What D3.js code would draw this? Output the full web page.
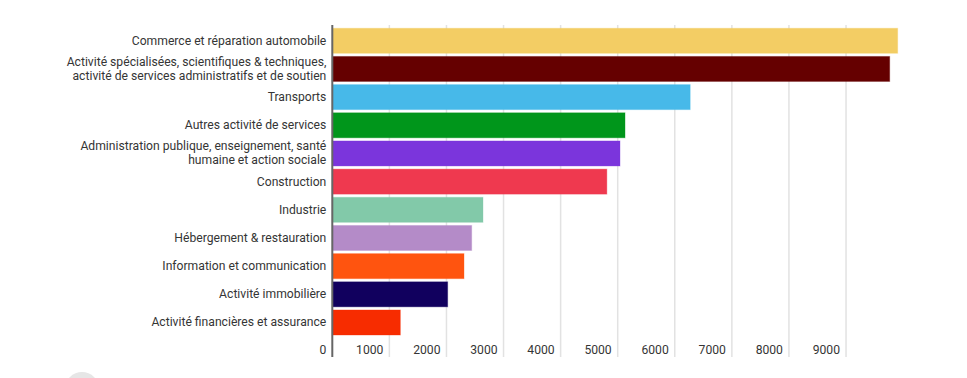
<!DOCTYPE html>
<html>
<head>
<meta charset="utf-8">
<script src="https://cdn.jsdelivr.net/npm/d3@7"></script>
<style>
  body { margin: 0; background: #fff; }
  #chart { width: 967px; height: 378px; overflow: hidden; }
  text { font-family: Roboto, "Noto Sans", sans-serif; }
</style>
</head>
<body>
<div id="chart"></div>
<script>
// ---- data ----
const categories = [
    ["Commerce et réparation automobile"],
    ["Activité spécialisées, scientifiques & techniques,", "activité de services administratifs et de soutien"],
    ["Transports"],
    ["Autres activité de services"],
    ["Administration publique, enseignement, santé", "humaine et action sociale"],
    ["Construction"],
    ["Industrie"],
    ["Hébergement & restauration"],
    ["Information et communication"],
    ["Activité immobilière"],
    ["Activité financières et assurance"]
];
const values = [9905, 9765, 6270, 5128, 5040, 4810, 2640, 2442, 2307, 2021, 1192];
const colors = ["#f3cd64", "#650000", "#47b9e9", "#00961b", "#7b35dc", "#ef394f",
                "#82c9a9", "#b48bc8", "#ff540f", "#11005e", "#f72c00"];
const tickValues = [0, 1000, 2000, 3000, 4000, 5000, 6000, 7000, 8000, 9000];

const width = 967, height = 378;
const x0 = 332.3, axisTop = 25, axisBottom = 357;

const svg = d3.select("#chart").append("svg")
    .attr("width", width)
    .attr("height", height);

const x = d3.scaleLinear()
    .domain([0, 1000])
    .range([x0, x0 + 57.08]);

const rows = d3.range(categories.length);
const y = d3.scaleBand()
    .domain(rows)
    .range([26.7, 26.7 + 11 * 28.17])
    .paddingInner(0.1125)
    .paddingOuter(0.056);

// gridlines
svg.append("g")
    .selectAll("line")
    .data(tickValues.slice(1))
    .enter()
    .append("line")
    .attr("x1", d => x(d))
    .attr("x2", d => x(d))
    .attr("y1", axisTop)
    .attr("y2", axisBottom)
    .attr("stroke", "#e2e2e2")
    .attr("stroke-width", 1.5);

// bars
svg.append("g")
    .selectAll("rect")
    .data(rows)
    .enter()
    .append("rect")
    .attr("x", x(0))
    .attr("y", i => y(i))
    .attr("width", i => x(values[i]) - x(0))
    .attr("height", y.bandwidth())
    .attr("fill", i => colors[i])
    .attr("stroke", i => colors[i])
    .attr("stroke-opacity", 0.35)
    .attr("stroke-width", 1);

// category labels
const labels = svg.append("g")
    .selectAll("text")
    .data(rows)
    .enter()
    .append("text")
    .attr("text-anchor", "end")
    .attr("dominant-baseline", "central")
    .style("font-size", "12.15px")
    .style("fill", "#353535");

labels.each(function(i) {
    const lines = categories[i];
    const cy = y(i) + y.bandwidth() / 2;
    const lh = 14;
    lines.forEach((t, k) => {
        d3.select(this).append("tspan")
            .attr("x", x0 - 6)
            .attr("y", cy + (k - (lines.length - 1) / 2) * lh)
            .text(t);
    });
});

// x tick labels (right aligned, left of each gridline)
svg.append("g")
    .selectAll("text")
    .data(tickValues)
    .enter()
    .append("text")
    .attr("x", d => x(d) - 6)
    .attr("y", 350)
    .attr("text-anchor", "end")
    .attr("dominant-baseline", "central")
    .style("font-size", "12.15px")
    .style("fill", "#353535")
    .text(d => d);

// left axis line
svg.append("line")
    .attr("x1", x0)
    .attr("x2", x0)
    .attr("y1", axisTop)
    .attr("y2", axisBottom)
    .attr("stroke", "#666")
    .attr("stroke-width", 2);

// grey round button peeking at bottom left
svg.append("circle")
    .attr("cx", 82)
    .attr("cy", 389)
    .attr("r", 17)
    .attr("fill", "#e6e6e6");
</script>
</body>
</html>
